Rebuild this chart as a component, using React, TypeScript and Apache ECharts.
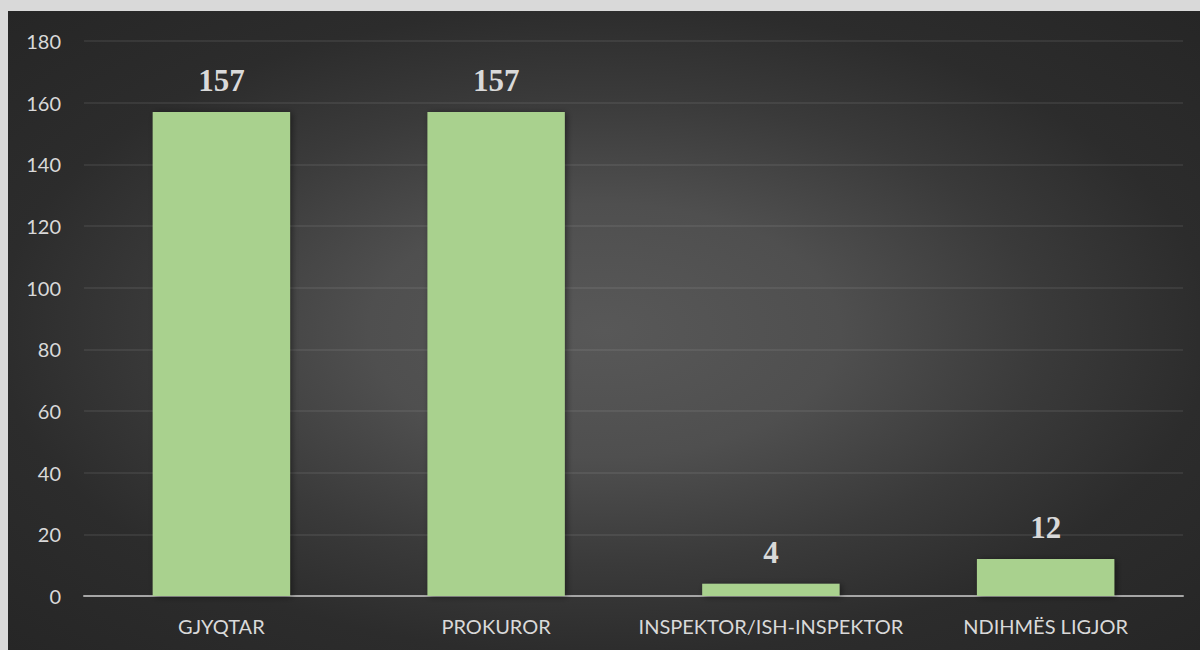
import React, { useEffect, useRef } from "react";
import * as echarts from "echarts";

const categories = ["GJYQTAR", "PROKUROR", "INSPEKTOR/ISH-INSPEKTOR", "NDIHMËS LIGJOR"];
const values = [157, 157, 4, 12];
const yMin = 0;
const yMax = 180;
const yInterval = 20;

export default function App() {
  const ref = useRef<HTMLDivElement>(null);
  useEffect(() => {
    if (!ref.current) return;
    const chart = echarts.init(ref.current, undefined, { renderer: "svg" });
    chart.setOption({
      animation: false,
      backgroundColor: "transparent",
      grid: { left: 76, right: 17, top: 30, bottom: 54, containLabel: false },
      xAxis: {
        type: "category",
        data: categories,
        axisLine: { lineStyle: { color: "#a6a6a6", width: 2 } },
        axisTick: { show: false },
        axisLabel: {
          interval: 0,
          color: "#d9d9d9",
          fontFamily: "Lato, 'Open Sans', sans-serif",
          fontSize: 20,
          margin: 20,
        },
      },
      yAxis: {
        type: "value",
        min: yMin,
        max: yMax,
        interval: yInterval,
        axisLine: { show: false },
        axisTick: { show: false },
        axisLabel: {
          color: "#d9d9d9",
          fontFamily: "Lato, 'Open Sans', sans-serif",
          fontSize: 20,
          margin: 23,
        },
        splitLine: { lineStyle: { color: "rgba(217,217,217,0.12)", width: 1.5 } },
      },
      series: [
        {
          type: "bar",
          data: values,
          barWidth: "50%",
          itemStyle: {
            color: "#a9d18e",
            shadowColor: "rgba(0,0,0,0.45)",
            shadowBlur: 6,
            shadowOffsetX: 2,
            shadowOffsetY: 1,
          },
          label: {
            show: true,
            position: "top",
            distance: 16,
            color: "#d9d9d9",
            fontFamily: "'Liberation Serif', 'Times New Roman', serif",
            fontWeight: "bold",
            fontSize: 31,
          },
        },
      ],
    });
    return () => chart.dispose();
  }, []);

  return (
    <div
      style={{
        position: "fixed",
        left: 0,
        top: 0,
        width: 1200,
        height: 650,
        background: "#d9d9d9",
      }}
    >
      <div
        ref={ref}
        style={{
          position: "absolute",
          left: 8,
          top: 11,
          width: 1192,
          height: 639,
          background:
            "radial-gradient(ellipse at 50% 50%, #585858 0%, #4f4f4f 28%, #3a3a3a 52%, #2c2c2c 72%, #262626 100%)",
        }}
      />
    </div>
  );
}
